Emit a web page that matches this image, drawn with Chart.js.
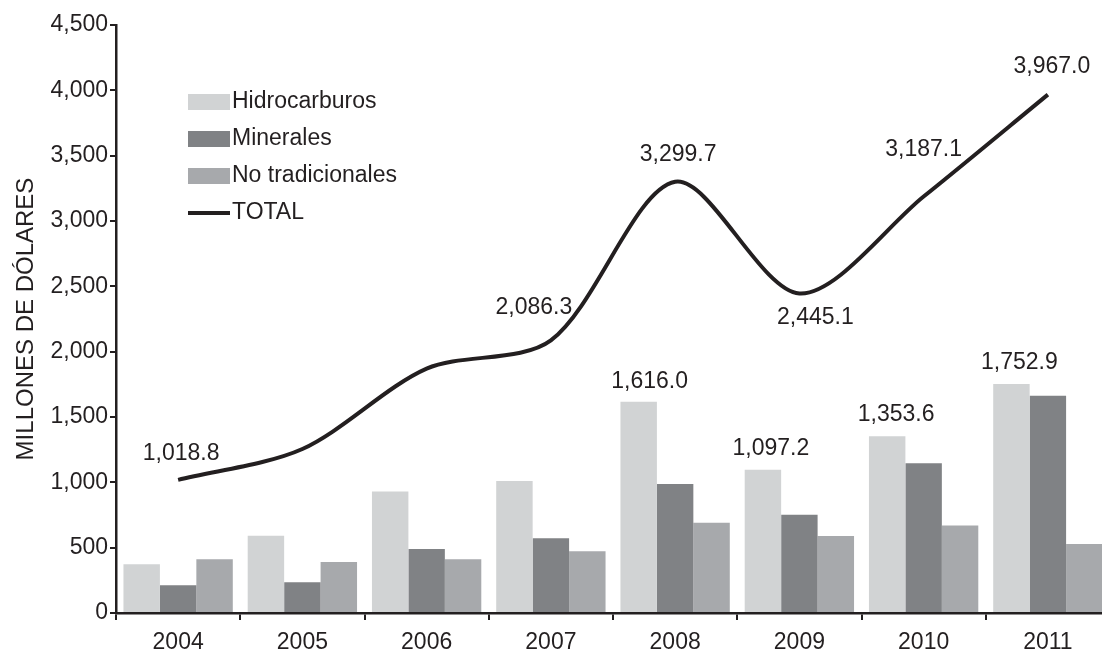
<!DOCTYPE html>
<html>
<head>
<meta charset="utf-8">
<script src="https://cdn.jsdelivr.net/npm/chart.js@4"></script>
<style>
    body { margin: 0; background: #fff; overflow: hidden; }
    #wrap { width: 1112px; height: 653px; }
</style>
</head>
<body>
<div id="wrap"><canvas id="myChart" width="1112" height="653"></canvas></div>
<script>
// datos (millones de dólares)
const years = ['2004', '2005', '2006', '2007', '2008', '2009', '2010', '2011'];
const hidrocarburos = [373, 592, 930, 1011, 1616.0, 1097.2, 1353.6, 1752.9];
const minerales = [212, 235, 490, 572, 988, 751, 1147, 1663];
const noTradicionales = [411, 391, 411, 473, 690, 590, 669, 529];
const total = [1018.8, 1255, 1870, 2086.3, 3299.7, 2445.1, 3187.1, 3967.0];
const yTicks = [0, 500, 1000, 1500, 2000, 2500, 3000, 3500, 4000, 4500];

const ink = '#231f20';
const font = 'Liberation Sans, Arial, sans-serif';
const fmt = v => v.toLocaleString('en-US', { minimumFractionDigits: 1, maximumFractionDigits: 1 });

// which points get a value label, and where it sits relative to the point
const labelSpots = [
    { ds: 3, i: 0, dx: 3, dy: -26 },
    { ds: 3, i: 3, dx: -17, dy: -33 },
    { ds: 3, i: 4, dx: 3, dy: -27 },
    { ds: 3, i: 5, dx: 16, dy: 24 },
    { ds: 3, i: 6, dx: 0, dy: -47 },
    { ds: 3, i: 7, dx: 4, dy: -28 },
    { ds: 0, i: 4, dx: 11, dy: -20 },
    { ds: 0, i: 5, dx: 8, dy: -21 },
    { ds: 0, i: 6, dx: 9, dy: -21 },
    { ds: 0, i: 7, dx: 8, dy: -21 }
];

const valueLabels = {
    id: 'valueLabels',
    afterDatasetsDraw(c) {
        const ctx = c.ctx;
        ctx.save();
        ctx.font = `23px ${font}`;
        ctx.fillStyle = ink;
        ctx.textAlign = 'center';
        ctx.textBaseline = 'middle';
        labelSpots.forEach(s => {
            const el = c.getDatasetMeta(s.ds).data[s.i];
            ctx.fillText(fmt(c.data.datasets[s.ds].data[s.i]), el.x + s.dx, el.y + s.dy);
        });
        ctx.restore();
    }
};

const boxLegend = {
    id: 'boxLegend',
    afterDraw(c) {
        const ctx = c.ctx;
        ctx.save();
        ctx.font = `23px ${font}`;
        ctx.textBaseline = 'middle';
        c.data.datasets.forEach((d, k) => {
            const y = 102 + k * 37;
            if (d.type === 'line') {
                ctx.fillStyle = d.borderColor;
                ctx.fillRect(188, y - 2, 42, 4);
            } else {
                ctx.fillStyle = d.backgroundColor;
                ctx.fillRect(188, y - 8, 42, 16);
            }
            ctx.fillStyle = ink;
            ctx.fillText(d.label, 232, y);
        });
        ctx.restore();
    }
};

new Chart(document.getElementById('myChart'), {
    data: {
        labels: years,
        datasets: [
            { type: 'bar', label: 'Hidrocarburos', data: hidrocarburos, backgroundColor: '#d1d3d4', order: 2 },
            { type: 'bar', label: 'Minerales', data: minerales, backgroundColor: '#808285', order: 2 },
            { type: 'bar', label: 'No tradicionales', data: noTradicionales, backgroundColor: '#a7a9ac', order: 2 },
            { type: 'line', label: 'TOTAL', data: total, borderColor: ink, borderWidth: 4, tension: 0.3,
              pointRadius: 0, fill: false, order: 1 }
        ]
    },
    options: {
        responsive: false,
        animation: false,
        layout: { padding: { top: 25, right: 2, left: 0, bottom: 0 } },
        datasets: { bar: { categoryPercentage: 0.88, barPercentage: 1.0 } },
        plugins: { legend: { display: false }, tooltip: { enabled: false } },
        scales: {
            x: {
                offset: true,
                grid: { offset: true, drawOnChartArea: false, drawTicks: true, tickLength: 7, color: ink, lineWidth: 2 },
                border: { color: ink, width: 2.5 },
                ticks: { color: ink, font: { family: font, size: 23 }, padding: 9 },
                afterFit(s) { s.height = 40; }
            },
            y: {
                min: 0, max: 4500,
                afterBuildTicks(s) { s.ticks = yTicks.map(v => ({ value: v })); },
                grid: { drawOnChartArea: false, drawTicks: true, tickLength: 6, color: ink, lineWidth: 2 },
                border: { color: ink, width: 2.5 },
                ticks: { color: ink, font: { family: font, size: 23 }, padding: 2,
                         callback: v => v.toLocaleString('en-US') },
                title: { display: true, text: 'MILLONES DE DÓLARES', color: ink,
                         font: { family: font, size: 24 }, padding: { top: 12, bottom: 0 } },
                afterFit(s) { s.width = 116; }
            }
        }
    },
    plugins: [valueLabels, boxLegend]
});
</script>
</body>
</html>
